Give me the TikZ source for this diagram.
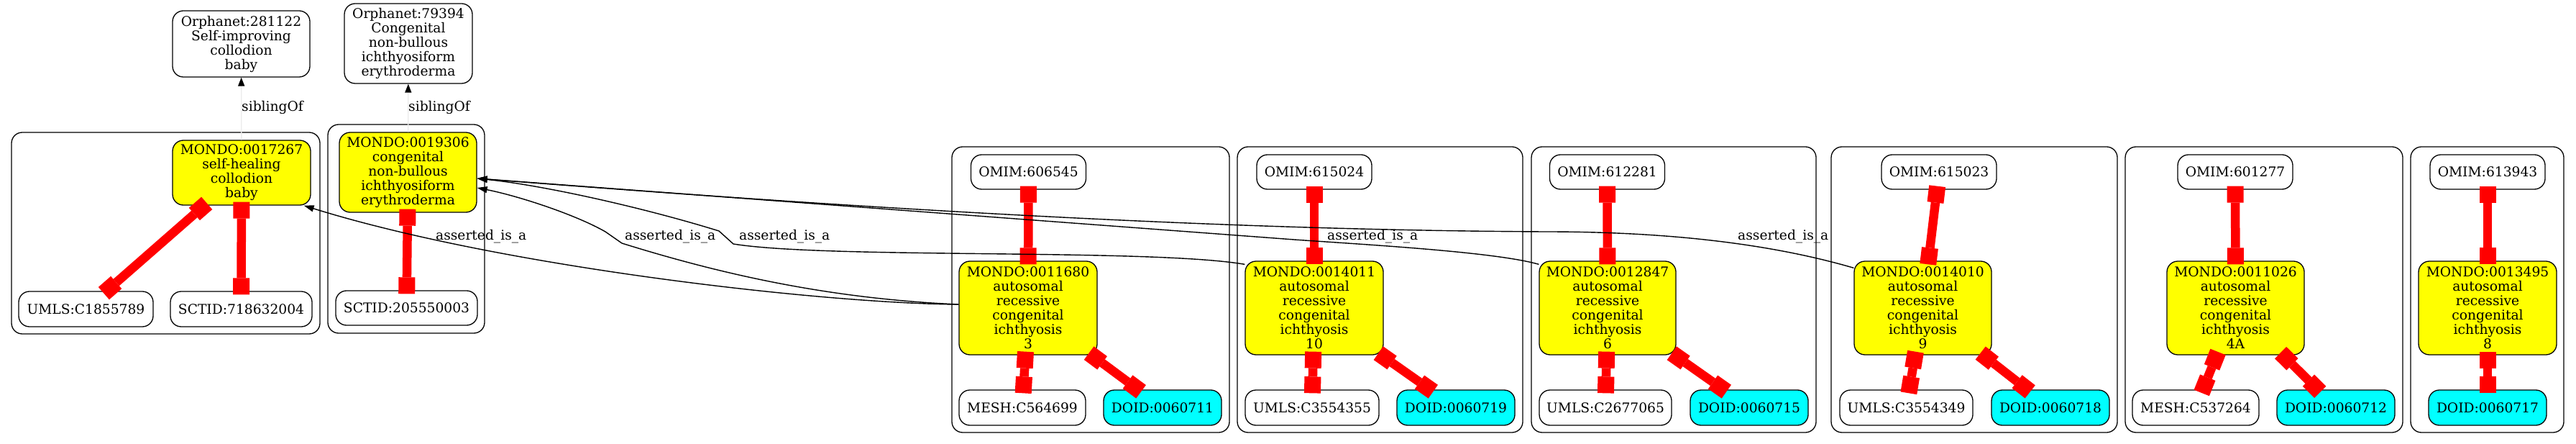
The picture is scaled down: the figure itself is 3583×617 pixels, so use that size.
\documentclass[tikz,border=0pt]{standalone}
\usepackage{fontspec}
\newfontfamily\gvfamily{DejaVu Serif}
\newcommand\gvf{\gvfamily\fontsize{18.67}{20}\selectfont}
\usetikzlibrary{arrows.meta}
\definecolor{gvyellow}{RGB}{255,255,0}
\definecolor{gvcyan}{RGB}{0,255,255}
\definecolor{gvred}{RGB}{255,0,0}
\definecolor{gvgrey}{RGB}{235,235,235}
\begin{document}
\begin{tikzpicture}[x=1pt,y=-1pt,
  nd/.style={draw, line width=1.3pt, rounded corners=15pt, inner sep=0pt, align=center, font=\gvf, text=black},
  mondo/.style={nd, fill=gvyellow},
  doid/.style={nd, fill=gvcyan, minimum width=164pt, minimum height=49pt},
  omim/.style={nd, minimum width=160pt, minimum height=48pt},
  mbig/.style={mondo, minimum width=192pt, minimum height=130pt},
  low/.style={nd, minimum height=49pt},
  grp/.style={draw, line width=1.3pt, rounded corners=15pt},
  xref/.style={gvred, line width=12.5pt,
    {Square[length=23pt,width=23pt,line width=0pt]}-{Square[length=23pt,width=23pt,line width=0pt]},
    shorten <=-5pt, shorten >=-5pt},
  isa/.style={line width=1.4pt, -{Triangle[length=14pt,width=9pt]}},
  sib/.style={gvgrey, line width=1.3pt, -{Triangle[length=12pt,width=9pt,color=black,fill=black]}},
  lbl/.style={font=\gvf, inner sep=0pt, anchor=base west}]
\useasboundingbox[fill=white] (0,0) rectangle (3583,617);
% clusters
\draw[grp] (16,184) rectangle (445,464);
\draw[grp] (456,173) rectangle (674,463);
\draw[grp] (1324,204) rectangle (1710,601);
\draw[grp] (1721,204) rectangle (2118,601);
\draw[grp] (2130,204) rectangle (2526,601);
\draw[grp] (2547,204) rectangle (2945,601);
\draw[grp] (2956,204) rectangle (3342,601);
\draw[grp] (3353,204) rectangle (3566,601);
% left nodes
\node[nd, minimum width=191pt, minimum height=92pt] (orph1) at (335.5,61) {Orphanet:281122\\Self-improving\\collodion\\baby};
\node[nd, minimum width=178pt, minimum height=111pt] (orph2) at (568,60.5) {Orphanet:79394\\Congenital\\non-bullous\\ichthyosiform\\erythroderma};
\node[mondo, minimum width=192pt, minimum height=90pt] (m1) at (336,240) {MONDO:0017267\\self-healing\\collodion\\baby};
\node[mondo, minimum width=191pt, minimum height=111pt] (m2) at (567.5,239.5) {MONDO:0019306\\congenital\\non-bullous\\ichthyosiform\\erythroderma};
\node[low, minimum width=187pt] (u1) at (119.5,429.5) {UMLS:C1855789};
\node[low, minimum width=197pt] (s1) at (335.5,429.5) {SCTID:718632004};
\node[low, minimum width=197pt, minimum height=48pt] (s2) at (565.5,428) {SCTID:205550003};
% cluster 3
\node[omim] (o3) at (1430.5,239) {OMIM:606545};
\node[mbig] (m3) at (1430,428) {MONDO:0011680\\autosomal\\recessive\\congenital\\ichthyosis\\3};
\node[low, minimum width=176pt] (x3) at (1422,566.5) {MESH:C564699};
\node[doid] (d3) at (1617,566.5) {DOID:0060711};
% cluster 4
\node[omim] (o4) at (1828,239) {OMIM:615024};
\node[mbig] (m4) at (1828,428) {MONDO:0014011\\autosomal\\recessive\\congenital\\ichthyosis\\10};
\node[low, minimum width=186pt] (x4) at (1825,566.5) {UMLS:C3554355};
\node[doid] (d4) at (2025,566.5) {DOID:0060719};
% cluster 5
\node[omim] (o5) at (2235.5,239) {OMIM:612281};
\node[mbig, minimum width=190pt] (m5) at (2236,428) {MONDO:0012847\\autosomal\\recessive\\congenital\\ichthyosis\\6};
\node[low, minimum width=184pt] (x5) at (2233,566.5) {UMLS:C2677065};
\node[doid] (d5) at (2433,566.5) {DOID:0060715};
% cluster 6
\node[omim] (o6) at (2697,239) {OMIM:615023};
\node[mbig, minimum width=191pt] (m6) at (2674.5,428) {MONDO:0014010\\autosomal\\recessive\\congenital\\ichthyosis\\9};
\node[low, minimum width=185pt] (x6) at (2651.5,566.5) {UMLS:C3554349};
\node[doid] (d6) at (2852,566.5) {DOID:0060718};
% cluster 7
\node[omim] (o7) at (3109,239) {OMIM:601277};
\node[mbig, minimum width=191pt] (m7) at (3109.5,428) {MONDO:0011026\\autosomal\\recessive\\congenital\\ichthyosis\\4A};
\node[low, minimum width=176pt] (x7) at (3054,566.5) {MESH:C537264};
\node[doid] (d7) at (3249,566.5) {DOID:0060712};
% cluster 8
\node[omim] (o8) at (3460,239) {OMIM:613943};
\node[mbig] (m8) at (3460,428) {MONDO:0013495\\autosomal\\recessive\\congenital\\ichthyosis\\8};
\node[doid] (d8) at (3460,566.5) {DOID:0060717};
% red cross-reference edges
\draw[xref] (m1) -- (u1);
\draw[xref] (m1) -- (s1);
\draw[xref] (m2) -- (s2);
\draw[xref] (o3) -- (m3);
\draw[xref] (m3) -- (x3);
\draw[xref] (m3) -- (d3);
\draw[xref] (o4) -- (m4);
\draw[xref] (m4) -- (x4);
\draw[xref] (m4) -- (d4);
\draw[xref] (o5) -- (m5);
\draw[xref] (m5) -- (x5);
\draw[xref] (m5) -- (d5);
\draw[xref] (o6) -- (m6);
\draw[xref] (m6) -- (x6);
\draw[xref] (m6) -- (d6);
\draw[xref] (o7) -- (m7);
\draw[xref] (m7) -- (x7);
\draw[xref] (m7) -- (d7);
\draw[xref] (o8) -- (m8);
\draw[xref] (m8) -- (d8);
% siblingOf
\draw[sib] (m1) -- (orph1);
\draw[sib] (m2) -- (orph2);
\node[lbl] (sl1) at (336,155) {siblingOf};
\node[lbl] (sl2) at (568,155) {siblingOf};
% asserted_is_a
\draw[isa] ([yshift=5pt]m3.west) .. controls (1150,422) and (700,372) .. ([xshift=-10pt]m1.south east);
\draw[isa] ([yshift=5pt]m3.west) .. controls (1150,415) and (1000,380) .. (865,338) -- (842,322) .. controls (800,298) and (720,272) .. ([yshift=-21.5pt]m2.east);
\draw[isa] ([yshift=-5pt]m4.north west) .. controls (1600,345) and (1150,360) .. (1020,339) -- (1000,321) .. controls (900,290) and (760,258) .. ([yshift=-8.5pt]m2.east);
\draw[isa] ([yshift=-5pt]m5.north west) .. controls (2080,350) and (1900,340) .. (1800,333) -- ([yshift=-8.5pt]m2.east);
\draw[isa] ([yshift=-10pt]m6.north west) .. controls (2450,335) and (2300,322) .. (2150,322) .. controls (1700,320) and (1200,290) .. ([yshift=-8.5pt]m2.east);
\node[lbl] (al1) at (606,334) {asserted\_is\_a};
\node[lbl] (al2) at (869,334) {asserted\_is\_a};
\node[lbl] (al3) at (1028,334) {asserted\_is\_a};
\node[lbl] (al4) at (1846,334) {asserted\_is\_a};
\node[lbl] (al5) at (2417,334) {asserted\_is\_a};
\end{tikzpicture}
\end{document}
